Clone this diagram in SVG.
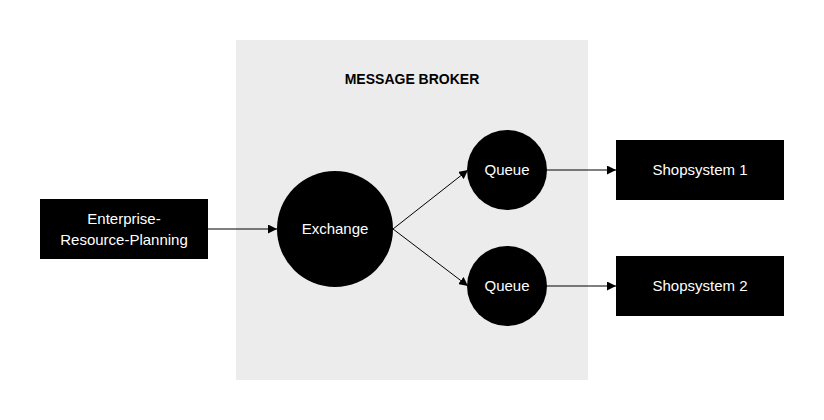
<svg xmlns="http://www.w3.org/2000/svg" width="824" height="420" viewBox="0 0 824 420">
<style>
.n{fill:#000}
.t{fill:#fff;font-family:"Liberation Sans",Arial,sans-serif;font-size:15px;text-anchor:middle}
.c{stroke:#000;stroke-width:1;fill:none;marker-end:url(#a)}
</style>
<defs><marker id="a" viewBox="0 0 10 10" refX="10" refY="5" markerWidth="9" markerHeight="9" markerUnits="userSpaceOnUse" orient="auto"><path d="M0,0L10,5L0,10z" fill="#000"/></marker></defs>
<rect width="824" height="420" fill="#fff"/>
<g id="broker"><rect x="236" y="40" width="352" height="340" fill="#ececec"/>
<text x="412" y="84" style="font-family:'Liberation Sans',Arial,sans-serif;font-size:14px;font-weight:bold;text-anchor:middle">MESSAGE BROKER</text></g>
<g id="connectors">
<line class="c" x1="208" y1="229" x2="277" y2="229"/>
<line class="c" x1="393" y1="229" x2="468" y2="170"/>
<line class="c" x1="393" y1="229" x2="468" y2="286"/>
<line class="c" x1="547" y1="170" x2="616" y2="170"/>
<line class="c" x1="547" y1="286" x2="616" y2="286"/>
</g>
<g id="erp"><rect class="n" x="40" y="199" width="168" height="60"/><text class="t" x="124" y="224">Enterprise-</text><text class="t" x="124" y="245">Resource-Planning</text></g>
<g id="exchange"><circle class="n" cx="335" cy="229" r="58"/><text class="t" x="335" y="234">Exchange</text></g>
<g id="queue1"><circle class="n" cx="507" cy="170" r="40"/><text class="t" x="507" y="175">Queue</text></g>
<g id="queue2"><circle class="n" cx="507" cy="286" r="40"/><text class="t" x="507" y="291">Queue</text></g>
<g id="shop1"><rect class="n" x="616" y="140" width="168" height="60"/><text class="t" x="700" y="175">Shopsystem 1</text></g>
<g id="shop2"><rect class="n" x="616" y="256" width="168" height="60"/><text class="t" x="700" y="291">Shopsystem 2</text></g>
</svg>
